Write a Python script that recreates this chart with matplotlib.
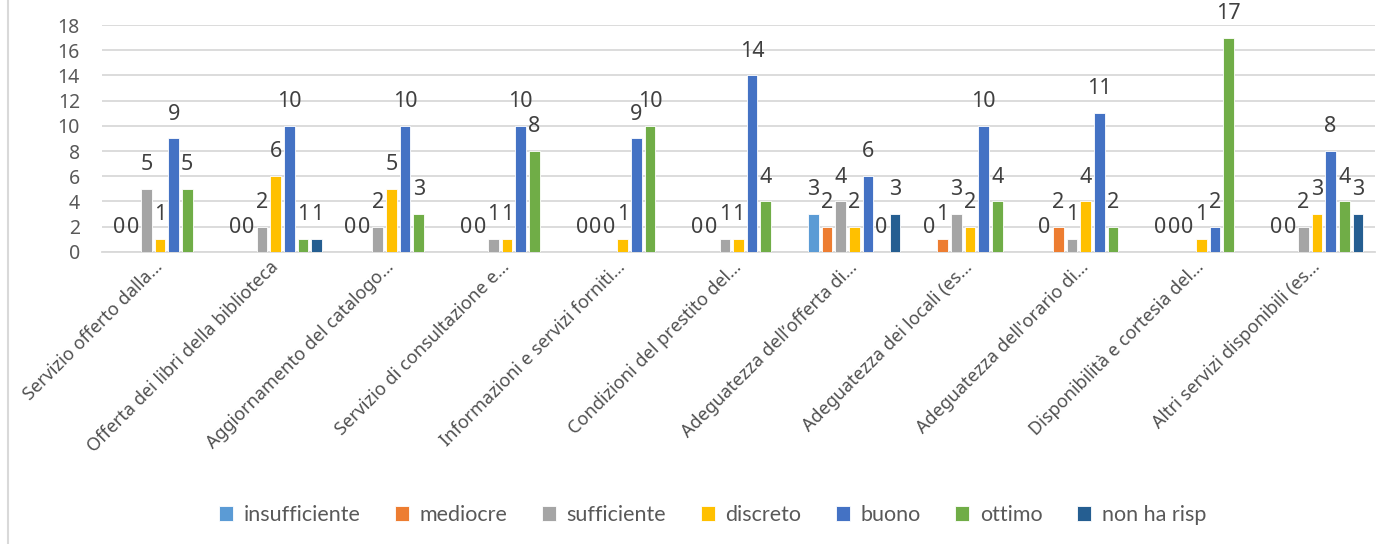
import numpy as np
import matplotlib.pyplot as plt
from matplotlib.lines import Line2D

plt.rcParams['font.family'] = ['Noto Sans', 'DejaVu Sans']

nan = np.nan

categories = [
    "Servizio offerto dalla…",
    "Offerta dei libri della biblioteca",
    "Aggiornamento del catalogo…",
    "Servizio di consultazione e…",
    "Informazioni e servizi forniti…",
    "Condizioni del prestito del…",
    "Adeguatezza dell’offerta di…",
    "Adeguatezza dei locali (es…",
    "Adeguatezza dell'orario di…",
    "Disponibilità e cortesia del…",
    "Altri servizi disponibili (es…",
]

insufficiente = [0, 0, 0, 0, 0, 0, 3, 0, 0, 0, 0]
mediocre = [0, 0, 0, 0, 0, 0, 2, 1, 2, 0, 0]
sufficiente = [5, 2, 2, 1, 0, 1, 4, 3, 1, 0, 2]
discreto = [1, 6, 5, 1, 1, 1, 2, 2, 4, 1, 3]
buono = [9, 10, 10, 10, 9, 14, 6, 10, 11, 2, 8]
ottimo = [5, 1, 3, 8, 10, 4, 0, 4, 2, 17, 4]
non_ha_risp = [nan, 1, nan, nan, nan, nan, 3, nan, nan, nan, 3]

series = [
    ("insufficiente", insufficiente, "#5B9BD5"),
    ("mediocre", mediocre, "#ED7D31"),
    ("sufficiente", sufficiente, "#A5A5A5"),
    ("discreto", discreto, "#FFC000"),
    ("buono", buono, "#4472C4"),
    ("ottimo", ottimo, "#70AD47"),
    ("non ha risp", non_ha_risp, "#255E91"),
]

fig = plt.figure(figsize=(14, 5.44), dpi=100)
ax = fig.add_axes([0.073, 0.537, 0.909, 0.417])

x = np.arange(len(categories))
pitch = 0.118
width = 0.092
text_col = "#595959"

for i, (name, vals, col) in enumerate(series):
    vals = np.array(vals, dtype=float)
    pos = x + (i - 3) * pitch
    ok = ~np.isnan(vals)
    ax.bar(pos[ok], vals[ok], width, color=col, label=name,
           edgecolor="white", linewidth=0.6, zorder=3)
    for px, v in zip(pos[ok], vals[ok]):
        ax.annotate(f"{int(v)}", (px, v), xytext=(0, 17.5),
                    textcoords="offset points", ha="center", va="center",
                    fontsize=15.5, color="#404040", annotation_clip=False,
                    zorder=4)

ax.set_xlim(-0.5, len(categories) - 0.5)
ax.set_ylim(0, 18)
ax.set_yticks(range(0, 19, 2))
ax.yaxis.grid(True, color="#D9D9D9", linewidth=1.3, zorder=0)
ax.tick_params(axis="y", length=0, pad=16, labelsize=14, labelcolor=text_col)
ax.tick_params(axis="x", length=0, pad=9)
for s in ["top", "right", "left"]:
    ax.spines[s].set_visible(False)
ax.spines["bottom"].set_color("#D9D9D9")
ax.spines["bottom"].set_linewidth(1.3)

ax.set_xticks(x)
ax.set_xticklabels(categories, rotation=45, ha="right", va="center",
                   rotation_mode="anchor", fontsize=13, color="#505050")

leg = fig.legend(loc="center", bbox_to_anchor=(0.509, 0.053), ncol=7,
                 frameon=False, fontsize=15.5, handlelength=0.65,
                 handleheight=0.65, handletextpad=0.5, columnspacing=1.6,
                 labelcolor=text_col)
for t in leg.get_texts():
    t.set_family(["Lato", "DejaVu Sans"])

# chart area border on the left
fig.add_artist(Line2D([0.0055, 0.0055], [0, 1], color="#D9D9D9", linewidth=1.5,
                      transform=fig.transFigure))

fig.savefig("out.png", dpi=100, facecolor="white")
